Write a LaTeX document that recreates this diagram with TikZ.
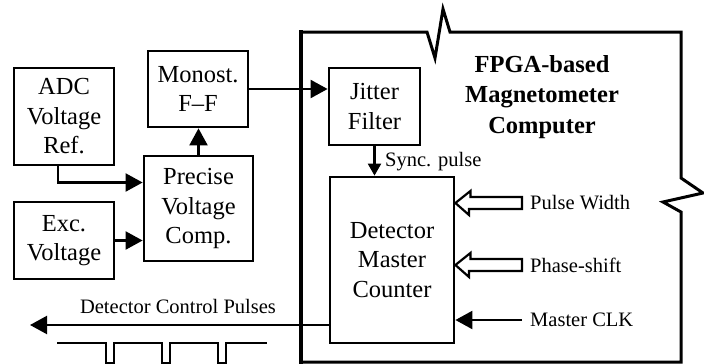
\documentclass[tikz,border=0pt]{standalone}
\usepackage{fontspec}
\setmainfont{Liberation Serif}
\usetikzlibrary{arrows.meta}

\tikzset{
	blk/.style={draw,line width=2.8pt,inner sep=0pt,align=center,font=\fontsize{24.5}{29.5}\selectfont},
	lbl/.style={inner sep=2pt,font=\fontsize{20.5}{24}\selectfont},
	conn/.style={line width=2.2pt},
	hollow/.style={line width=2.2pt,fill=white,line join=miter}
}

\begin{document}
\begin{tikzpicture}[x=1pt,y=-1pt,>={Triangle[length=17pt,width=18pt]}]
	\useasboundingbox (0,0) rectangle (704,364);

	%FPGA frame with break marks
	\draw[line width=3pt,line join=miter] (301,362)--(301,32)--(427,32)--(435,58)--(443,9)--(450,32)--(681,32)--(681,178)--(703,193)--(663,202)--(681,212)--(681,362)--cycle;
	\draw[line width=4.5pt] (301,364)--(301,30);
	\node[align=center,font=\fontsize{24.5}{30.5}\selectfont\bfseries] (title) at (542,97) {FPGA-based\\Magnetometer\\Computer};

	%blocks
	\node[blk,minimum width=100,minimum height=97] (adc) at (64,116.5) {ADC\\Voltage\\Ref.};
	\node[blk,minimum width=100,minimum height=77] (exc) at (64,240.5) {Exc.\\Voltage};
	\node[blk,minimum width=109,minimum height=105] (prec) at (198.5,208.5) {Precise\\Voltage\\Comp.};
	\node[blk,minimum width=100,minimum height=76] (mono) at (198,89) {Monost.\\F--F};
	\node[blk,minimum width=91,minimum height=77] (jit) at (374.5,106.5) {Jitter\\Filter};
	\node[blk,minimum width=124,minimum height=166] (det) at (392,260) {Detector\\Master\\Counter};

	%connections
	\draw[->,conn] ([xshift=-6pt]adc.south) |- ([yshift=26pt]prec.west);
	\draw[->,conn] (exc.east) -- (exc.east -| prec.west);
	\draw[->,conn] (prec.north) -- (prec.north |- mono.south);
	\draw[->,conn] (mono.east) -- (mono.east -| jit.west);
	\draw[->,conn,>={Triangle[length=12pt,width=13pt]}] (jit.south) -- (jit.south |- det.north);
		\node[lbl,anchor=west] (sync) at (383,162) {Sync. pulse};

	%inputs of the counter
	\node[lbl,anchor=west] (pw) at (528,203) {Pulse Width};
	\node[lbl,anchor=west] (ps) at (528,265) {Phase-shift};
	\node[lbl,anchor=west] (clk) at (528,320) {Master CLK};
	\draw[hollow] (det.east |- pw.west) -- ++(15,-12) -- ++(0,6) -- ([xshift=-6pt,yshift=6pt]pw.west) -- ([xshift=-6pt,yshift=-6pt]pw.west) -- ++(-53,0) -- ++(0,6) -- cycle;
	\draw[hollow] (det.east |- ps.west) -- ++(15,-12) -- ++(0,6) -- ([xshift=-6pt,yshift=6pt]ps.west) -- ([xshift=-6pt,yshift=-6pt]ps.west) -- ++(-53,0) -- ++(0,6) -- cycle;
	\draw[->,conn] ([xshift=-6pt]clk.west) -- (det.east |- clk.west);

	%output pulses
	\coordinate (dcp) at (30,325);
	\draw[->,conn] ([yshift=-65pt]det.west) -- (dcp);
		\node[lbl] (dcplbl) at (178,306) {Detector Control Pulses};
	\draw[line width=2pt] (57,343)--(106,343)--(106,363)--(114,363)--(114,343)--(162,343)--(162,363)--(170,363)--(170,343)--(218,343)--(218,363)--(226,363)--(226,343)--(267,343);
\end{tikzpicture}
\end{document}
